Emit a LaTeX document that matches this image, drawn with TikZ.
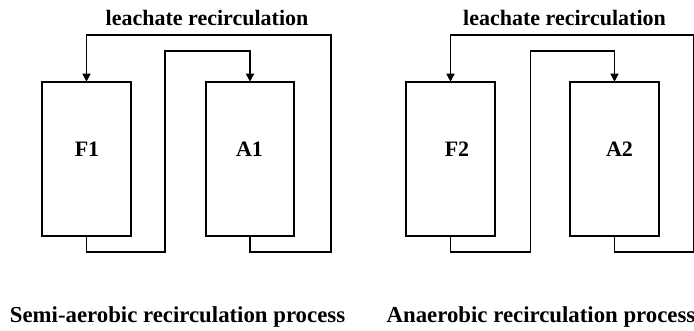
\documentclass[tikz,border=0pt]{standalone}
\usepackage{fontspec}
\setmainfont{Liberation Serif}
\usetikzlibrary{arrows.meta}
\tikzset{
  tank/.style={draw=black, line width=1.6pt, minimum width=88.5pt, minimum height=154pt, inner sep=0pt, outer sep=0pt},
  lbl/.style={font=\fontsize{22}{24}\selectfont\bfseries, anchor=base, inner sep=0pt},
  captext/.style={font=\fontsize{22.8}{24}\selectfont\bfseries, anchor=base, inner sep=0pt},
  pipe/.style={draw=black, line width=1.5pt},
  flow/.style={pipe, -{Triangle[length=8pt,width=8pt]}}
}
\begin{document}
\begin{tikzpicture}[x=1pt,y=-1pt]
\useasboundingbox (0,0) rectangle (694,330);
% left panel
\node[tank] (F1) at (86.5,158.7) {};
\node[tank] (A1) at (250,158.7) {};
\node[lbl] (F1t) at (87,156.7) {F1};
\node[lbl] (A1t) at (249.5,156.7) {A1};
\coordinate (L1a) at (165,252);
\coordinate (L1b) at (165,51);
\coordinate (L1c) at (331,252);
\coordinate (L1d) at (331,35);
\draw[flow] (F1.south) |- (L1a) -- (L1b) -| (A1.north);
\draw[flow] (A1.south) |- (L1c) -- (L1d) -| (F1.north);
\node[lbl] (T1) at (207,25) {leachate recirculation};
\node[captext] (C1) at (177.5,322) {Semi-aerobic recirculation process};
% right panel
\node[tank] (F2) at (450.5,158.7) {};
\node[tank] (A2) at (614.5,158.7) {};
\node[lbl] (F2t) at (457,156.7) {F2};
\node[lbl] (A2t) at (619.5,156.7) {A2};
\coordinate (R1a) at (530.3,252);
\coordinate (R1b) at (530.3,51);
\coordinate (R1c) at (694,252);
\coordinate (R1d) at (694,35);
\draw[flow] (F2.south) |- (R1a) -- (R1b) -| (A2.north);
\draw[flow] (A2.south) |- (R1c) -- (R1d) -| (F2.north);
\node[lbl] (T2) at (564.5,25) {leachate recirculation};
\node[captext] (C2) at (541,322) {Anaerobic recirculation process};
\end{tikzpicture}
\end{document}
